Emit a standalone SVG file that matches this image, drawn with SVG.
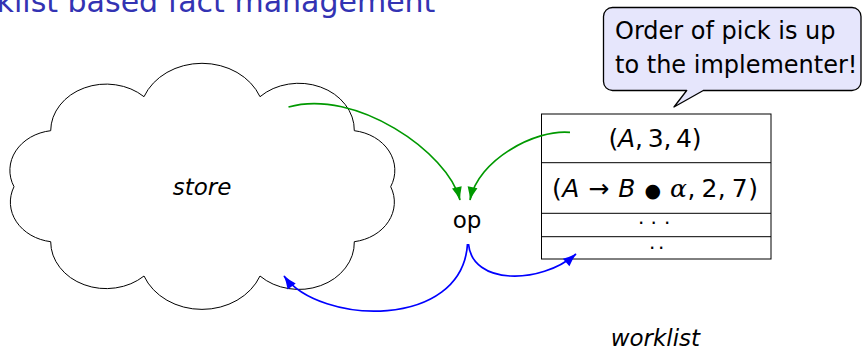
<svg xmlns="http://www.w3.org/2000/svg" width="862" height="349" viewBox="0 0 862 349">
  <style>
    .sans { font-family: "DejaVu Sans", "Liberation Sans", sans-serif; fill: #000; }
    .it { font-style: italic; }
    .title { font-family: "DejaVu Sans", "Liberation Sans", sans-serif; font-size: 30px; fill: #3333B3; }
    .cloud { fill: #fff; stroke: #000; stroke-width: 1; }
    .table { fill: #fff; stroke: #000; stroke-width: 1; }
    .bubble { fill: #E6E6FC; stroke: #000; stroke-width: 1.3; stroke-linejoin: round; }
    .green { fill: none; stroke: #009900; stroke-width: 1.7; }
    .blue { fill: none; stroke: #0000FF; stroke-width: 1.7; }
  </style>
  <defs>
    <marker id="headGreen" markerUnits="userSpaceOnUse" viewBox="-14 -6 15 12" markerWidth="15" markerHeight="12" refX="0" refY="0" orient="auto" overflow="visible">
      <path d="M0.5,0 Q-6,-1.6 -13,-5 L-13,5 Q-6,1.6 0.5,0 Z" fill="#009900"/>
    </marker>
    <marker id="headBlue" markerUnits="userSpaceOnUse" viewBox="-14 -6 15 12" markerWidth="15" markerHeight="12" refX="0" refY="0" orient="auto" overflow="visible">
      <path d="M0.5,0 Q-6,-1.6 -13,-5 L-13,5 Q-6,1.6 0.5,0 Z" fill="#0000FF"/>
    </marker>
  </defs>

  <!-- frame title (runs off the left edge) -->
  <text class="title" x="-3.4" y="11.7">klist based fact management</text>

  <!-- store: cloud of ten puffs -->
  <g id="store">
    <path class="cloud" d="M144,96.7
      A62.4,52.9 0 0 1 260,96.7
      A55.5,47 0 0 1 354.3,130.7
      A47.2,40 0 0 1 390.7,186.7
      A47.2,40 0 0 1 354.3,241.7
      A55.5,47 0 0 1 260,276
      A62.4,52.9 0 0 1 144,276
      A55.5,47 0 0 1 50.7,241.7
      A47.2,40 0 0 1 14,186.7
      A47.2,40 0 0 1 50.7,130.7
      A55.5,47 0 0 1 144,96.7 Z"/>
    <text class="sans it" x="202" y="195" font-size="23" text-anchor="middle">store</text>
  </g>

  <!-- op -->
  <g id="op">
    <text class="sans" x="467" y="227.7" font-size="23" text-anchor="middle">op</text>
  </g>

  <!-- worklist table -->
  <g id="worklist">
    <rect class="table" x="541.5" y="114" width="229.5" height="145"/>
    <line class="table" x1="541.5" y1="162.7" x2="771" y2="162.7"/>
    <line class="table" x1="541.5" y1="213.3" x2="771" y2="213.3"/>
    <line class="table" x1="541.5" y1="236.7" x2="771" y2="236.7"/>
    <text class="sans" x="655" y="147" font-size="25" text-anchor="middle" textLength="93" lengthAdjust="spacing">(<tspan class="it">A</tspan>,&#8201;3,&#8201;4)</text>
    <text class="sans" x="655" y="196.7" font-size="25" text-anchor="middle" textLength="206" lengthAdjust="spacing">(<tspan class="it">A</tspan> → <tspan class="it">B</tspan> <tspan font-size="19">●</tspan> <tspan font-family="'DejaVu Serif', 'Liberation Serif', serif" font-style="italic">α</tspan>,&#8201;2,&#8201;7)</text>
    <text class="sans" x="638 650.6 664" y="224.4" font-size="20">...</text>
    <text class="sans" x="649 658" y="248.8" font-size="20">..</text>
    <text class="sans it" x="655.4" y="346" font-size="23" text-anchor="middle">worklist</text>
  </g>

  <!-- speech bubble -->
  <g id="note">
    <path class="bubble" d="M612.5,7.5 H852 A9,9 0 0 1 861,16.5 V81.5 A9,9 0 0 1 852,90.5 H703.3 L674,107 L686.7,90.5 H612.5 A9,9 0 0 1 603.5,81.5 V16.5 A9,9 0 0 1 612.5,7.5 Z"/>
    <text class="sans" x="615" y="39.3" font-size="24">Order of pick is up</text>
    <text class="sans" x="615" y="72.7" font-size="24">to the implementer!</text>
  </g>

  <!-- connectors -->
  <g id="connectors">
    <path class="green" d="M288.5,107 C355,88 448,152 460,200" marker-end="url(#headGreen)"/>
    <path class="green" d="M570,132.3 C535,129 478,160 470,200" marker-end="url(#headGreen)"/>
    <path class="blue" d="M467.5,244 C462,330 320,325 284,276" marker-end="url(#headBlue)"/>
    <path class="blue" d="M468.5,244 C472,285 540,285 576,254" marker-end="url(#headBlue)"/>
  </g>
</svg>
